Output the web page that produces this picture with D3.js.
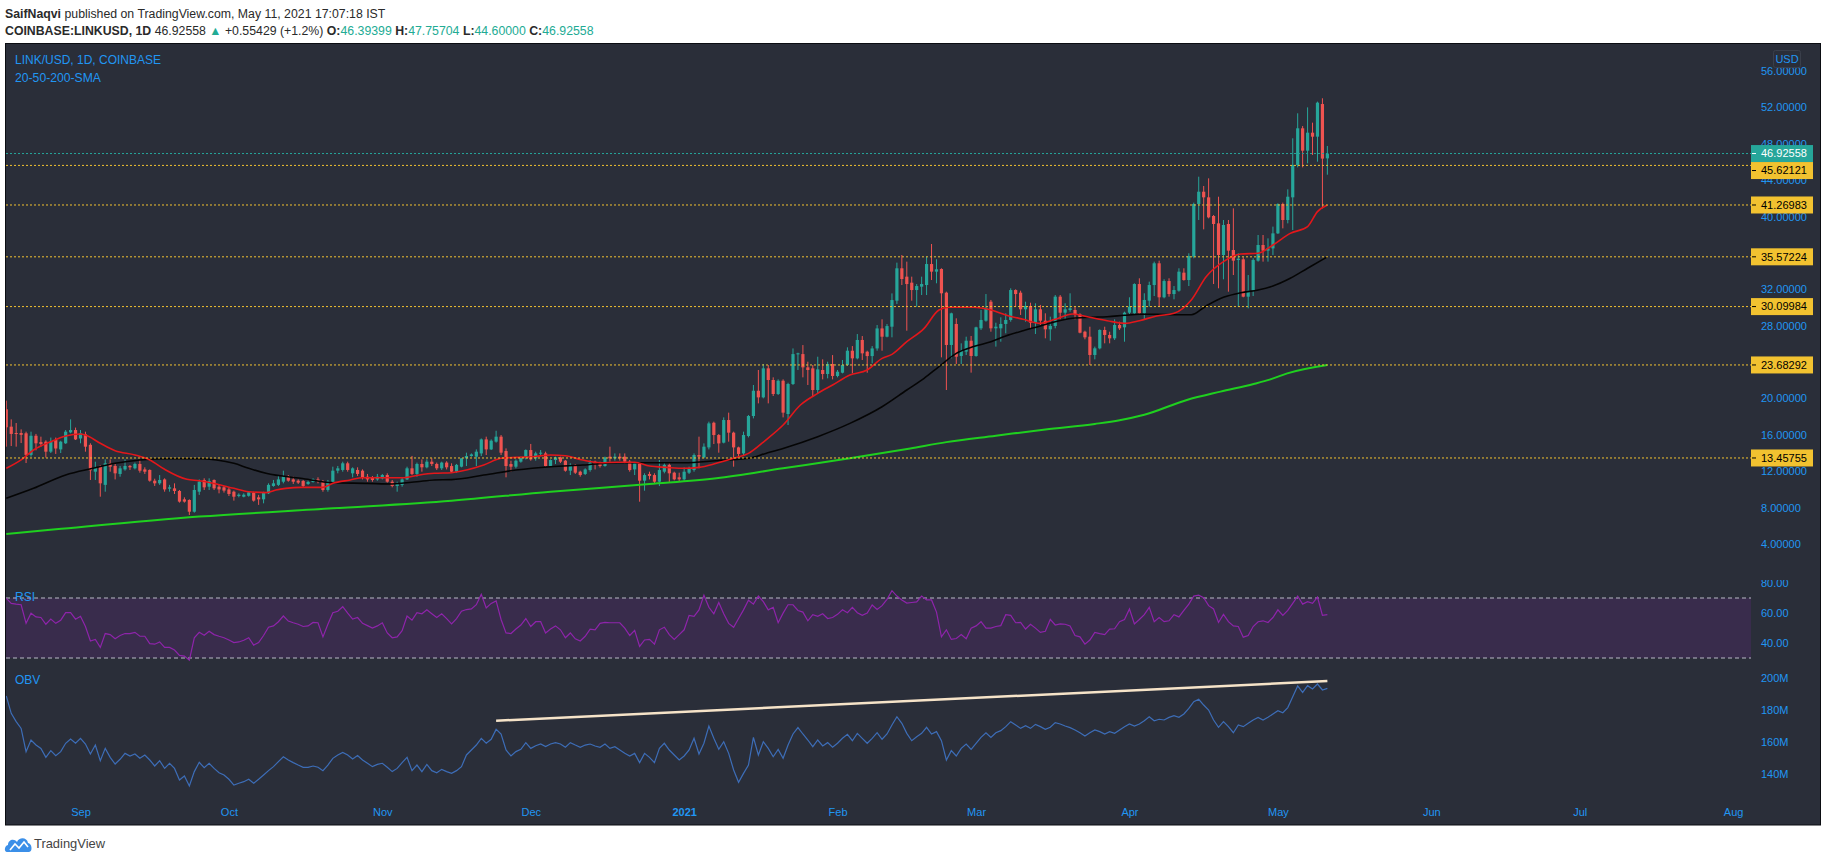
<!DOCTYPE html>
<html><head><meta charset="utf-8">
<script src="https://cdn.jsdelivr.net/npm/d3@7/dist/d3.min.js"></script>
<style>
html,body{margin:0;padding:0;background:#ffffff;}
svg{display:block;font-family:"Liberation Sans",Arial,sans-serif;}
</style></head><body>
<svg id="chart" width="1828" height="862"></svg>
<script>
// ---------------- DATA ----------------
const startDate = "2020-08-17"; // first daily candle
const opens = [18.81,16.9,16.2,16.2,16.17,13.8,15.9,15.2,15.25,14.15,
15.43,14.4,15.07,16.27,16.53,15.6,16.06,14.9,11.95,12.58,
10.5,12.87,12.58,11.7,12.2,12.58,12.32,12.8,12.2,12.14,
10.96,10.67,11.1,10.08,10.12,9.83,8.91,8.84,7.55,9.75,
11.04,10.3,11.04,10.3,10.23,10.0,9.75,9.28,9.2,9.3,
9.65,9.13,8.91,9.57,10.38,10.5,10.85,11.47,11.1,10.96,
10.93,10.6,10.82,11.1,10.85,9.94,10.85,12.06,12.14,12.87,
11.77,12.14,12.06,11.4,11.33,11.1,11.22,11.58,10.85,10.38,
10.5,11.1,12.32,11.7,12.8,12.43,13.05,12.8,12.32,12.95,
12.57,11.95,12.5,13.42,13.67,13.6,13.96,15.5,14.4,15.25,
15.8,14.22,12.79,12.5,13.05,13.42,14.33,13.42,13.96,13.96,
12.57,13.23,13.52,13.16,12.06,12.7,11.95,11.7,12.13,13.05,
12.94,12.57,13.6,13.42,13.6,13.6,13.05,12.2,12.87,10.96,
11.7,11.58,10.85,11.95,12.7,11.84,11.33,11.11,11.84,12.13,
13.78,13.52,14.62,17.33,15.98,15.14,17.63,16.24,14.62,13.96,
15.87,18.07,20.85,20.12,23.31,22.03,20.49,21.95,18.29,21.59,
24.88,24.88,23.42,23.31,20.93,23.13,22.69,23.79,22.47,22.83,
23.68,25.25,24.41,26.43,25.14,24.66,25.5,27.7,26.79,27.89,
30.75,34.31,33.39,32.73,31.92,32.29,32.47,34.78,33.94,34.23,
31.63,25.88,28.19,24.67,25.15,26.35,24.67,27.71,28.55,30.64,
27.71,27.71,28.19,28.63,31.92,31.63,29.8,30.17,28.33,29.8,
28.55,27.6,27.97,31.19,29.43,29.73,29.73,29.25,27.34,26.79,
24.78,25.51,27.53,26.98,26.61,28.08,27.82,29.43,29.36,32.58,
29.36,30.75,32.47,34.86,31.12,32.91,31.48,31.85,33.83,33.02,
35.59,41.38,42.73,42.11,40.06,39.25,35.77,39.18,36.32,35.22,
35.3,31.19,31.85,35.15,36.87,36.25,36.5,38.15,41.38,39.62,
42.11,45.67,49.7,47.24,49.22,48.78,52.37,46.39399];
const highs = [19.76,17.7,17.3,16.6,16.35,16.35,16.1,15.8,15.4,15.7,
15.7,15.35,16.53,17.7,16.8,16.53,16.35,15.07,13.05,12.68,
13.3,13.3,12.8,12.58,13.3,12.68,12.95,13.24,12.43,12.2,
11.18,11.58,11.22,10.5,10.67,9.94,9.13,8.91,10.5,11.1,
11.22,11.22,11.1,10.5,10.38,10.23,9.87,9.57,9.57,9.75,
9.75,9.4,9.75,10.67,11.04,11.58,12.06,11.58,11.4,11.1,
11.04,10.96,11.22,11.33,11.04,11.04,12.5,12.58,13.05,13.05,
12.43,12.43,12.2,11.7,11.47,11.7,11.7,11.77,11.04,10.85,
11.33,12.5,13.68,12.95,13.3,13.3,13.42,12.95,13.05,13.1,
12.87,12.8,13.42,14.04,13.96,14.4,15.6,15.8,15.5,16.45,
15.98,14.51,13.16,13.3,13.6,14.4,15.0,14.15,14.33,14.15,
13.3,13.6,13.6,13.23,12.87,12.79,12.06,12.32,13.23,13.16,
13.05,13.6,14.7,13.96,13.96,13.96,13.23,12.94,12.94,11.77,
11.95,11.77,13.23,12.94,12.87,11.95,11.84,12.42,12.5,13.96,
15.8,15.06,17.45,17.45,16.09,17.92,18.44,16.35,14.7,16.35,
18.18,21.48,23.13,23.79,23.68,22.32,22.1,22.1,21.73,25.5,
25.03,25.87,24.04,23.68,24.59,24.3,24.04,24.77,23.13,24.23,
25.62,25.76,27.08,26.86,25.25,25.76,28.07,28.7,28.18,31.55,
34.93,35.77,35.04,33.39,32.58,33.39,35.59,36.98,35.3,34.31,
31.74,29.43,28.81,26.06,26.79,26.87,27.89,29.73,31.48,30.83,
28.33,28.92,29.36,32.11,32.0,31.85,30.64,30.53,30.46,30.28,
29.36,28.99,31.37,31.37,30.46,31.56,30.09,29.36,27.45,27.89,
25.7,27.6,27.89,27.34,28.7,28.44,29.54,31.12,32.66,33.21,
31.56,32.84,35.04,35.15,33.1,33.21,32.36,34.31,34.31,35.96,
41.53,44.38,43.36,44.2,40.17,42.18,39.62,39.62,40.9,35.96,
35.52,33.57,35.41,37.97,37.97,37.6,38.89,41.45,41.53,42.99,
48.6,51.35,49.95,52.0,50.32,52.63,53.0,47.75704];
const lows = [14.7,14.77,14.7,15.1,12.9,13.6,14.3,14.7,13.5,14.0,
13.9,14.0,15.0,16.17,15.43,15.07,14.15,11.04,11.04,9.2,
9.75,11.95,11.1,11.4,12.06,12.14,12.2,11.84,11.7,10.85,
10.38,10.5,9.75,9.75,9.5,8.55,8.55,7.19,7.45,9.4,
9.94,9.94,9.94,9.57,9.65,9.28,8.77,9.13,9.13,9.2,
8.66,8.3,8.47,9.5,10.3,10.38,10.67,10.85,10.6,10.6,
10.23,10.5,10.75,10.67,9.75,9.75,10.67,11.77,11.95,11.95,
11.33,11.47,11.1,10.85,10.85,10.96,11.1,10.75,10.23,9.75,
10.3,11.04,11.58,11.4,11.95,12.32,12.58,12.14,12.14,12.2,
11.84,11.84,12.43,12.57,13.6,12.57,13.67,13.78,14.33,15.14,
13.78,11.33,11.95,12.32,12.94,13.3,13.16,13.16,13.67,12.5,
12.5,12.79,12.9,11.95,11.58,11.7,11.4,11.58,11.95,12.2,
12.4,12.5,13.05,13.16,13.16,12.87,11.95,11.58,8.65,9.86,
11.1,10.6,10.37,11.77,10.74,11.0,10.85,10.96,11.7,11.95,
12.32,13.42,14.4,14.99,14.04,15.06,15.25,12.5,13.6,13.78,
15.72,17.81,19.46,20.01,19.46,20.27,20.38,17.92,17.08,21.48,
23.13,22.32,21.48,20.19,20.56,22.1,22.21,22.1,22.32,22.76,
23.57,22.76,24.3,24.23,22.83,23.86,25.25,25.25,26.72,26.72,
30.39,32.47,27.45,30.75,30.09,31.37,31.37,33.02,32.66,24.52,
20.93,24.41,23.79,23.79,24.78,22.84,24.59,27.53,28.44,27.34,
25.7,26.24,27.16,28.44,30.09,29.18,28.44,27.71,27.09,28.08,
26.61,26.35,27.71,28.7,28.63,29.54,28.7,27.16,26.5,23.68,
24.3,25.4,26.06,26.06,26.43,27.53,26.24,29.29,29.29,29.29,
28.63,30.09,31.26,30.09,31.01,31.19,30.9,31.74,32.95,32.36,
35.41,39.62,38.59,39.8,32.58,32.11,33.1,31.74,33.57,30.09,
31.12,29.91,31.26,35.04,35.04,35.04,35.77,38.08,38.7,39.25,
38.52,45.41,45.41,45.85,46.77,46.03,40.9,44.6];
const closes = [16.83,16.1,16.12,16.0,13.8,15.9,15.07,15.0,14.15,15.25,
14.5,15.25,16.35,16.53,15.5,16.17,14.7,12.1,12.43,10.67,
12.87,12.5,11.77,12.32,12.58,12.43,12.8,12.06,11.95,10.96,
10.67,11.04,10.0,10.23,9.83,8.66,8.66,7.55,9.94,10.85,
10.23,10.93,10.12,10.0,9.87,9.5,9.2,9.42,9.42,9.68,
8.77,8.91,9.65,10.5,10.67,11.1,11.47,10.96,10.85,10.75,
10.38,10.82,11.1,10.89,9.94,10.85,12.06,12.32,12.87,12.14,
12.32,11.7,11.33,11.1,11.04,11.4,11.58,10.85,10.38,10.67,
11.1,12.32,11.7,12.8,12.43,13.05,12.8,12.32,12.95,12.43,
11.95,12.7,13.42,13.67,13.85,14.15,15.5,14.4,15.36,15.8,
14.04,12.57,12.5,13.16,13.49,14.33,13.3,13.96,14.04,12.57,
13.23,13.52,13.05,12.06,12.7,11.84,11.58,12.2,12.94,12.79,
12.57,13.52,13.42,13.6,13.42,13.05,12.13,12.87,10.96,11.58,
11.48,10.85,12.13,12.7,11.77,11.11,11.11,11.95,12.32,13.78,
13.6,14.7,17.26,15.98,15.06,17.63,16.24,14.62,13.9,15.98,
18.07,20.85,20.12,23.31,22.03,20.49,21.95,18.44,21.59,24.88,
24.96,23.42,23.13,20.93,23.2,22.69,23.79,22.47,22.94,23.68,
25.25,24.41,26.43,24.96,24.66,25.5,27.7,26.79,27.96,30.82,
34.31,33.13,32.58,31.92,32.36,32.58,34.78,33.94,34.2,31.56,
25.88,29.36,24.59,25.26,26.35,24.67,27.82,28.63,29.98,27.71,
27.89,28.19,28.63,31.92,31.48,29.8,30.17,28.33,29.8,28.55,
27.6,27.97,31.19,29.43,29.8,29.91,29.25,27.23,26.72,24.78,
25.51,27.53,26.98,26.61,28.08,27.71,29.43,30.09,32.58,29.36,
30.83,32.47,34.86,31.12,32.91,31.48,31.92,33.94,33.02,35.66,
41.38,42.73,42.11,39.91,39.18,35.77,39.07,36.25,35.15,35.37,
31.19,31.85,35.22,36.87,36.25,36.5,38.15,41.38,39.62,42.18,
45.67,49.7,47.24,49.22,48.78,52.52,46.37,46.92558];

// moving averages: [candle index, value]
const sma20 = [[0,12.32],[3,13.24],[5.5,14.33],[9,15.25],[12,15.87],[15,16.09],[16,15.98],[19,15.07],[22,14.26],[26,13.79],[29,13.24],[32,12.21],[36.5,11.11],[39,10.96],[42.5,10.6],[46,10.12],[49,9.75],[52.5,9.65],[54.5,9.94],[56.5,10.12],[59.5,10.23],[64,10.23],[66,10.67],[69.5,11.04],[72,11.29],[80,11.29],[83.5,11.59],[86.5,11.77],[90,11.84],[93,12.13],[96.5,12.68],[100,13.42],[103,13.52],[106.5,13.6],[110,13.78],[113,13.7],[116.5,13.23],[120,12.94],[123.5,12.98],[127,12.98],[130,12.57],[133.5,12.42],[137,12.32],[140,12.42],[143.5,12.87],[147,13.42],[150,13.96],[153.5,15.43],[157,17.08],[160.5,19.28],[164,20.56],[167,21.48],[170.5,22.58],[174,23.13],[177,24.41],[179,24.85],[182,26.24],[185.5,27.71],[188.5,29.73],[190.5,30.02],[195.5,30.02],[199,29.73],[202,29.18],[205.5,28.7],[209,28.26],[212,28.7],[215.5,29.29],[219,28.92],[222.5,28.55],[226,28.26],[229,28.55],[232.5,29.07],[236,29.36],[239.5,30.83],[242.5,33.39],[246,35.04],[249.5,35.88],[253,35.96],[256,36.87],[259.5,38.15],[263,38.89],[265,40.54],[267,41.27]];
const sma50 = [[0,9.02],[5.5,10.12],[12,11.59],[17.5,12.32],[22,12.87],[27,13.24],[32.5,13.38],[39,13.38],[42.5,13.24],[46,12.87],[49,12.32],[52.5,11.77],[59.5,11.22],[66,10.74],[73,10.67],[78,10.6],[83,10.85],[86.5,11.04],[90,11.08],[96.5,11.58],[103,12.13],[110,12.5],[116.5,12.68],[123.5,12.94],[130,12.94],[137,12.94],[143.5,13.16],[150,13.42],[153.5,13.96],[157,14.51],[164,15.8],[170.5,17.26],[177,19.09],[182,20.93],[185.5,22.21],[188.5,23.5],[192,24.96],[195.5,25.7],[199,26.24],[202,26.87],[205.5,27.45],[209,27.97],[212,28.44],[215.5,28.81],[219,28.92],[222.5,28.99],[226,29.14],[229,29.25],[232.5,29.25],[236,29.2],[239.5,29.2],[242.5,30.17],[246,31.12],[249.5,31.63],[253,31.92],[256,32.36],[259.5,33.21],[263,34.31],[267,35.57]];
const sma200 = [[0,5.1],[10,5.61],[39,7.01],[66,7.92],[90,8.76],[110,9.75],[130,10.59],[143.5,11.22],[157,12.32],[170.5,13.42],[182.7,14.51],[190,15.2],[200,15.9],[210,16.6],[220,17.2],[225,17.6],[230,18.2],[238.6,19.83],[245.4,20.75],[252.1,21.59],[255.5,22.1],[258.9,22.76],[267,23.68]];

const rsi = [69.8,66.4,65.9,65.5,53.1,59.9,57.4,57.0,52.5,55.9,
53.1,55.2,60.2,60.2,55.9,57.8,51.0,41.3,42.4,37.1,
46.3,45.6,42.8,45.0,46.3,46.3,47.1,44.5,44.5,39.6,
39.2,40.7,37.1,37.1,35.3,31.7,31.3,28.5,43.5,47.1,
45.2,47.8,45.6,44.5,43.5,42.0,40.3,40.7,41.8,43.5,
38.6,40.3,45.0,50.5,51.4,54.2,58.0,54.6,53.5,52.5,
51.0,51.4,53.7,53.5,44.1,52.5,60.2,61.2,64.2,59.9,
55.9,57.0,53.1,51.6,49.9,51.4,53.5,46.7,43.5,44.1,
48.2,58.0,55.2,60.2,59.5,62.1,59.5,57.0,59.5,56.3,
52.7,56.3,61.2,62.3,62.7,65.5,72.4,63.4,66.4,68.1,
55.7,46.7,46.3,49.3,52.0,56.3,51.0,54.2,54.2,46.7,
49.3,51.4,48.8,43.5,46.7,42.8,41.3,44.5,49.3,48.8,
53.1,53.7,53.5,53.5,53.5,49.9,45.0,48.4,37.7,42.0,
42.4,39.2,48.8,50.5,
45.6,42.4,45.6,48.8,58.4,57.8,62.1,71.9,63.8,59.5,
67.0,59.5,53.1,50.5,56.3,62.1,68.5,65.9,71.3,67.6,
62.1,63.8,53.5,59.9,65.5,65.5,61.7,60.6,54.8,58.9,
57.8,59.5,56.3,57.0,59.1,62.1,60.2,63.8,60.2,58.4,
59.9,65.3,62.3,64.9,69.1,74.9,71.3,68.7,66.6,67.0,
67.4,71.3,68.7,68.7,60.6,44.1,48.8,42.4,43.0,45.6,
42.8,49.9,51.4,54.2,49.9,49.9,51.0,51.6,58.9,58.4,
53.5,53.7,49.3,52.5,49.9,47.1,47.8,55.7,52.0,52.7,
52.5,51.4,45.0,44.1,39.2,42.0,47.1,46.3,45.6,49.3,
49.5,54.2,55.7,62.7,52.7,55.7,58.9,63.8,54.2,57.0,
54.2,54.8,58.9,57.4,61.7,65.9,71.3,71.9,70.2,64.9,
62.7,53.7,59.1,54.2,51.4,51.0,43.9,45.0,51.0,54.2,
54.8,53.7,57.0,62.1,58.4,61.7,66.4,71.3,65.9,67.6,
66.4,70.6,58.4,58.9];
const rsiBands = [70, 30];

const obv = [188.75,177.9,172.7,168.5,153.95,161.25,158.1,156.0,150.4,154.6,
151.5,154.0,159.2,161.9,159.2,162.3,158.75,152.5,158.1,148.3,
156.0,150.4,146.25,149.2,152.9,151.25,152.5,149.8,151.9,148.75,
145.0,148.3,143.5,146.7,143.5,136.25,138.75,132.5,141.5,147.3,
144.0,146.7,143.5,140.8,139.4,136.7,133.1,134.2,135.2,136.7,
134.2,136.7,139.4,142.1,144.6,147.7,150.8,148.75,147.1,145.6,
144.2,144.2,145.0,144.2,142.1,145.6,149.8,151.9,153.5,151.9,
149.4,151.5,148.75,146.7,144.6,146.0,146.7,144.2,141.5,143.5,
147.1,150.4,142.1,145.6,141.5,146.0,142.1,140.8,142.9,141.5,
140.4,142.1,144.6,151.9,155.0,158.1,162.3,159.2,161.7,167.9,
165.0,155.0,151.25,154.0,155.4,159.6,156.0,157.7,158.75,157.1,
158.75,159.6,158.75,156.7,159.6,158.1,156.7,158.1,158.75,157.5,
156.7,158.75,156.0,157.1,155.0,152.9,151.25,152.9,147.1,152.9,
150.4,147.1,156.0,159.2,
155.0,151.9,148.75,151.25,155.0,162.3,152.5,159.2,170.0,162.3,
155.4,160.2,152.9,142.5,134.8,140.4,145.6,162.9,151.9,160.2,
156.0,150.8,155.4,149.8,158.1,165.0,169.0,165.0,161.25,157.1,
161.25,157.5,159.6,156.7,159.2,162.3,164.8,160.8,165.4,162.3,
159.2,162.3,165.8,161.7,165.0,170.6,175.8,171.7,165.4,160.8,
163.3,165.4,169.2,165.0,166.5,160.8,148.75,154.6,151.25,156.0,
158.75,155.4,159.2,162.9,165.8,162.9,165.8,167.1,169.6,172.7,
170.6,168.5,170.2,168.5,171.0,169.6,167.9,169.2,172.1,171.25,
170.0,169.0,167.5,165.8,163.75,165.8,167.5,166.5,165.0,166.5,
165.4,167.5,169.6,171.25,170.0,171.25,173.3,175.8,173.3,174.2,
173.75,175.4,176.5,175.4,177.5,181.0,185.2,186.7,183.1,180.0,
173.75,169.2,172.7,169.6,165.8,170.6,169.6,171.7,173.75,175.4,
173.75,175.4,177.5,179.6,178.3,181.5,188.3,195.0,191.0,195.2,
193.1,196.25,192.5,193.5];
const obvTrend = [[99,173.3],[267,198.1]];

const lastPrice = 46.92558;
const levels = [45.62121, 41.26983, 35.57224, 30.09984, 23.68292, 13.45755];
const priceTicks = [4,8,12,16,20,24,28,32,36,40,44,48,52,56];
const rsiTicks = [40,60,80];
const obvTicks = [140,160,180,200];
const monthTicks = ["2020-09-01","2020-10-01","2020-11-01","2020-12-01","2021-01-01","2021-02-01","2021-03-01","2021-04-01","2021-05-01","2021-06-01","2021-07-01","2021-08-01"];
const monthLabels = ["Sep","Oct","Nov","Dec","2021","Feb","Mar","Apr","May","Jun","Jul","Aug"];

// ---------------- LAYOUT ----------------
const P = {l:6, r:1751, top:44, mainB:580, rsiB:668, obvB:797};
const svg = d3.select("#chart");
const parse = d3.utcParse("%Y-%m-%d");
const start = parse(startDate);
const dateAt = i => new Date(start.getTime() + i * 864e5);

const x = d3.scaleUtc().domain([parse("2020-09-01"), parse("2021-08-01")]).range([80.5, 1733.1]);
const y = d3.scaleLinear().domain([4, 56]).range([544, 71]);
const yR = d3.scaleLinear().domain([40, 80]).range([643, 583]);
const yO = d3.scaleLinear().domain([140, 200]).range([774, 678]);

const AX = "#2196f3";
const UP = "#26a69a", DN = "#ef5350", YEL = "#f2c230";

// header
const h1 = svg.append("text").attr("x", 5).attr("y", 18).attr("font-size", 12.3).attr("fill", "#2a2a2a");
h1.append("tspan").attr("font-weight", "bold").text("SaifNaqvi");
h1.append("tspan").text(" published on TradingView.com, May 11, 2021 17:07:18 IST");
const h2 = svg.append("text").attr("x", 5).attr("y", 35).attr("font-size", 12.3).attr("fill", "#2a2a2a");
h2.append("tspan").attr("font-weight", "bold").text("COINBASE:LINKUSD, 1D");
h2.append("tspan").text(" 46.92558 ");
h2.append("tspan").attr("fill", "#22ab94").text("▲");
h2.append("tspan").text(" +0.55429 (+1.2%) ");
[["O:", "46.39399"], [" H:", "47.75704"], [" L:", "44.60000"], [" C:", "46.92558"]].forEach(([k, v]) => {
  h2.append("tspan").attr("font-weight", "bold").text(k);
  h2.append("tspan").attr("fill", "#22ab94").text(v);
});

// frame
svg.append("rect").attr("x", 5.5).attr("y", 43.5).attr("width", 1815).attr("height", 781.5)
  .attr("fill", "#2a2e39").attr("stroke", "#0b0d12").attr("stroke-width", 1);

const defs = svg.append("defs");
function clip(id, x0, y0, x1, y1) {
  defs.append("clipPath").attr("id", id).append("rect").attr("x", x0).attr("y", y0).attr("width", x1 - x0).attr("height", y1 - y0);
  return "url(#" + id + ")";
}
const cMain = clip("cMain", P.l, P.top, P.r, P.mainB);
const cRsi = clip("cRsi", P.l, P.mainB, P.r, P.rsiB);
const cObv = clip("cObv", P.l, P.rsiB, P.r, P.obvB);
const cRsiAx = clip("cRsiAx", P.r, P.mainB, 1820, P.rsiB);

// ---------- main pane ----------
const gMain = svg.append("g").attr("clip-path", cMain);
const idx = d3.range(closes.length);
const cg = gMain.append("g");
idx.forEach(i => {
  const cx = x(dateAt(i));
  const col = closes[i] >= opens[i] ? UP : DN;
  cg.append("line").attr("x1", cx).attr("x2", cx).attr("y1", y(highs[i])).attr("y2", y(lows[i]))
    .attr("stroke", col).attr("stroke-width", 1);
  const yt = y(Math.max(opens[i], closes[i])), yb = y(Math.min(opens[i], closes[i]));
  cg.append("rect").attr("x", cx - 1.6).attr("width", 3.2).attr("y", yt).attr("height", Math.max(1, yb - yt)).attr("fill", col);
});
const maLine = d3.line().x(d => x(dateAt(d[0]))).y(d => y(d[1])).curve(d3.curveMonotoneX);
gMain.append("path").datum(sma200).attr("d", maLine).attr("fill", "none").attr("stroke", "#1fd01f").attr("stroke-width", 2);
gMain.append("path").datum(sma50).attr("d", maLine).attr("fill", "none").attr("stroke", "#050505").attr("stroke-width", 1.6);
gMain.append("path").datum(sma20).attr("d", maLine).attr("fill", "none").attr("stroke", "#e3171b").attr("stroke-width", 1.6);

// horizontal levels
levels.forEach(v => {
  gMain.append("line").attr("x1", P.l).attr("x2", P.r).attr("y1", y(v)).attr("y2", y(v))
    .attr("stroke", YEL).attr("stroke-width", 1).attr("stroke-dasharray", "2,2");
});
gMain.append("line").attr("x1", P.l).attr("x2", P.r).attr("y1", y(lastPrice)).attr("y2", y(lastPrice))
  .attr("stroke", UP).attr("stroke-width", 1).attr("stroke-dasharray", "2,2");

// legends
svg.append("text").attr("x", 15).attr("y", 64).attr("font-size", 13).attr("fill", AX)
  .attr("textLength", 146).attr("lengthAdjust", "spacingAndGlyphs").text("LINK/USD, 1D, COINBASE");
svg.append("text").attr("x", 15).attr("y", 82).attr("font-size", 13).attr("fill", AX)
  .attr("textLength", 86).attr("lengthAdjust", "spacingAndGlyphs").text("20-50-200-SMA");

// price axis
const pAx = svg.append("g").attr("transform", "translate(1761,0)")
  .call(d3.axisRight(y).tickValues(priceTicks).tickFormat(d3.format(".5f")).tickSize(0).tickPadding(0));
pAx.select(".domain").remove();
pAx.attr("font-size", 11).attr("font-family", "'Liberation Sans',Arial,sans-serif").style("color", AX);

svg.append("rect").attr("x", 1773.5).attr("y", 50.5).attr("width", 27).attr("height", 17).attr("rx", 2)
  .attr("fill", "none").attr("stroke", "#3a3f4b");
svg.append("text").attr("x", 1787).attr("y", 63).attr("text-anchor", "middle").attr("font-size", 11).attr("fill", AX).text("USD");

// price labels
const boxes = [{v: lastPrice, bg: UP, fg: "#ffffff"}].concat(levels.map(v => ({v, bg: YEL, fg: "#000000"})));
boxes.forEach(b => b.y = y(b.v));
boxes.sort((a, b) => a.y - b.y);
let prevY = -1e9;
boxes.forEach(b => { b.cy = Math.max(b.y, prevY + 17); prevY = b.cy; });
const gb = svg.append("g");
boxes.forEach(b => {
  gb.append("rect").attr("x", 1751).attr("y", b.cy - 8.5).attr("width", 62).attr("height", 17).attr("fill", b.bg);
  gb.append("line").attr("x1", 1752).attr("x2", 1756).attr("y1", b.cy).attr("y2", b.cy).attr("stroke", b.fg).attr("stroke-width", 1);
  gb.append("text").attr("x", 1761).attr("y", b.cy).attr("dy", "0.35em").attr("font-size", 11).attr("fill", b.fg).text(d3.format(".5f")(b.v));
});

// ---------- RSI pane ----------
const gR = svg.append("g").attr("clip-path", cRsi);
gR.append("rect").attr("x", P.l).attr("width", P.r - P.l).attr("y", yR(rsiBands[0])).attr("height", yR(rsiBands[1]) - yR(rsiBands[0]))
  .attr("fill", "#392c4c");
rsiBands.forEach(v => gR.append("line").attr("x1", P.l).attr("x2", P.r).attr("y1", yR(v)).attr("y2", yR(v))
  .attr("stroke", "#b9b9c6").attr("stroke-width", 1).attr("stroke-dasharray", "4,3"));
gR.append("path").datum(rsi).attr("fill", "none").attr("stroke", "#8e24aa").attr("stroke-width", 1.2)
  .attr("d", d3.line().x((d, i) => x(dateAt(i))).y(d => yR(d)));
svg.append("text").attr("x", 15).attr("y", 601).attr("font-size", 12).attr("fill", AX).text("RSI");
const rAx = svg.append("g").attr("clip-path", cRsiAx).append("g").attr("transform", "translate(1761,0)")
  .call(d3.axisRight(yR).tickValues(rsiTicks).tickFormat(d3.format(".2f")).tickSize(0).tickPadding(0));
rAx.select(".domain").remove();
rAx.attr("font-size", 11).attr("font-family", "'Liberation Sans',Arial,sans-serif").style("color", AX);

// ---------- OBV pane ----------
const gO = svg.append("g").attr("clip-path", cObv);
gO.append("path").datum(obv).attr("fill", "none").attr("stroke", "#3d6db7").attr("stroke-width", 1.2)
  .attr("d", d3.line().x((d, i) => x(dateAt(i))).y(d => yO(d)));
gO.append("path").datum(obvTrend).attr("fill", "none").attr("stroke", "#f6e3c8").attr("stroke-width", 2.5)
  .attr("d", d3.line().x(d => x(dateAt(d[0]))).y(d => yO(d[1])));
svg.append("text").attr("x", 15).attr("y", 684).attr("font-size", 12).attr("fill", AX).text("OBV");
const oAx = svg.append("g").attr("transform", "translate(1761,0)")
  .call(d3.axisRight(yO).tickValues(obvTicks).tickFormat(d => d + "M").tickSize(0).tickPadding(0));
oAx.select(".domain").remove();
oAx.attr("font-size", 11).attr("font-family", "'Liberation Sans',Arial,sans-serif").style("color", AX);

// ---------- time axis ----------
const tAx = svg.append("g").attr("transform", "translate(0,808)")
  .call(d3.axisBottom(x).tickValues(monthTicks.map(parse)).tickFormat((d, i) => monthLabels[i]).tickSize(0).tickPadding(0));
tAx.select(".domain").remove();
tAx.attr("font-size", 11).attr("font-family", "'Liberation Sans',Arial,sans-serif").style("color", AX);
tAx.selectAll("text").attr("font-weight", (d, i) => monthLabels[i] === "2021" ? "bold" : null);

// ---------- footer logo ----------
const lg = svg.append("g");
lg.append("path").attr("d", "M7,852 C4,852 4,846 8,845 C8,840 14,838 17,842 C19,837 27,837 28,843 C32,843 33,852 29,852 Z").attr("fill", "#3b8fe8");
lg.append("polyline").attr("points", "10,850 15,844 19,848 24,842 28,847").attr("fill", "none").attr("stroke", "#ffffff").attr("stroke-width", 1.6);
svg.append("text").attr("x", 34).attr("y", 848).attr("font-size", 13).attr("fill", "#444")
  .attr("textLength", 71).attr("lengthAdjust", "spacingAndGlyphs").text("TradingView");
</script>
</body></html>
